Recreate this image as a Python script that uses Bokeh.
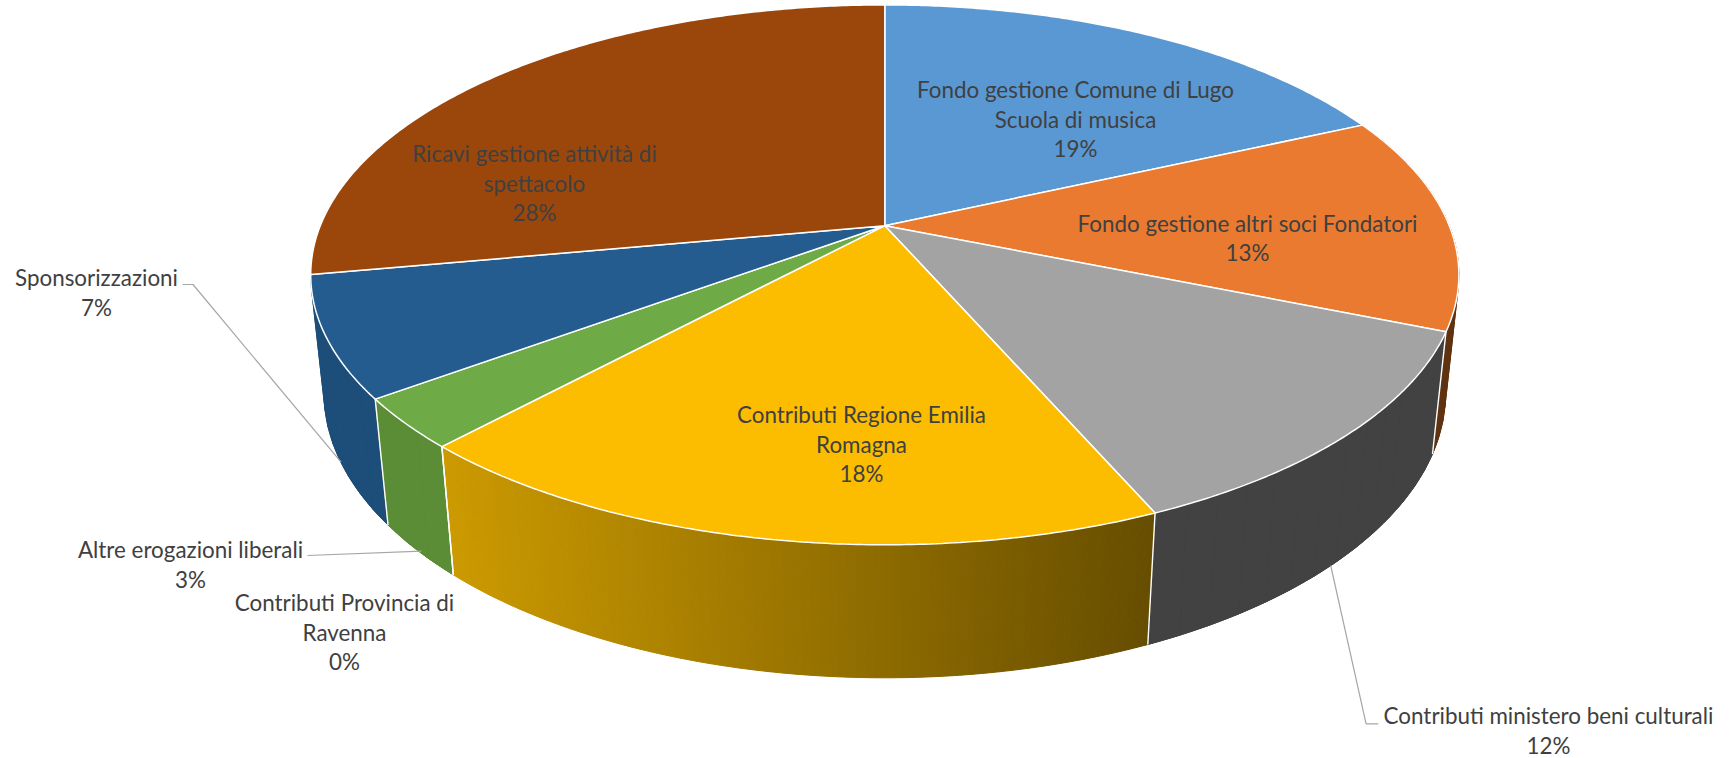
import numpy as np
from bokeh.embed import file_html
from bokeh.models import ColumnDataSource, Range1d
from bokeh.plotting import figure
from bokeh.resources import INLINE
from bokeh.core.properties import value

# ---- data -----------------------------------------------------------------
categories = [
    "Fondo gestione Comune di Lugo Scuola di musica",
    "Fondo gestione altri soci Fondatori",
    "Contributi ministero beni culturali",
    "Contributi Regione Emilia Romagna",
    "Contributi Provincia di Ravenna",
    "Altre erogazioni liberali",
    "Sponsorizzazioni",
    "Ricavi gestione attività di spettacolo",
]
shares = [18.20, 12.97, 12.30, 18.43, 0.0, 3.00, 7.20, 27.90]
percent_labels = ["19%", "13%", "12%", "18%", "0%", "3%", "7%", "28%"]
label_lines = [
    ["Fondo gestione Comune di Lugo", "Scuola di musica"],
    ["Fondo gestione altri soci Fondatori"],
    ["Contributi ministero beni culturali"],
    ["Contributi Regione Emilia", "Romagna"],
    ["Contributi Provincia di", "Ravenna"],
    ["Altre erogazioni liberali"],
    ["Sponsorizzazioni"],
    ["Ricavi gestione attività di", "spettacolo"],
]

# ---- styles and layout ----------------------------------------------------
top_colors = ["#5a98d3", "#ea7a30", "#a3a3a3", "#fcbd00", "#4472c4", "#6eaa46", "#245c90", "#9b470c"]
wall_colors = ["#3a6d9c", "#5f3210", "#424242", None, "#2b4a80", "#5b8c36", "#1d4e79", "#5e2b08"]
hidden_walls = {0, 7}
grad_left, grad_right = (204, 154, 0), (102, 77, 0)
text_color = "#404040"
leader_color = "#a6a6a6"
FONT = "Lato"
FONT_PX = 22.4

label_cx = [1075, 1247, 1548, 861, 344, 190, 96, 534]
label_first_y = [89, 222.5, 715, 414, 602, 549, 277, 153]
line_gap = 29.6

leaders = [
    ([182, 192.5, 340.6], [284, 284, 461.7]),
    ([307, 421], [555, 550.7]),
    ([1330.2, 1365.6, 1377.7], [565, 723.3, 723.3]),
]

# perspective model of the disc, in picture pixels
CX, CY = 884.3, 225.2
A, B, C = 261.0, 564.5, 119.2
P, Q = 0.182, 0.023


def project(frac, depth=0.0):
    th = 2 * np.pi * np.asarray(frac, dtype=float)
    u, v = np.sin(th), np.cos(th)
    w = 1 + P * v + Q * depth
    return CX + B * u / w, CY + (-A * v + C * depth) / w


W, H = 1731, 758
p = figure(width=W, height=H, output_backend="svg", toolbar_location=None,
           x_range=Range1d(0, W), y_range=Range1d(H, 0),
           min_border=0, outline_line_color=None, background_fill_color="white")
p.axis.visible = False
p.grid.visible = False

edges = np.concatenate([[0.0], np.cumsum(shares)]) / sum(shares)


def strip(f0, f1):
    x0, y0 = project(f0)
    x1, y1 = project(f1)
    x2, y2 = project(f1, 1)
    x3, y3 = project(f0, 1)
    return [x0, x1, x2, x3], [y0, y1, y2, y3]


# walls, painted from back to front; the gradient wall is cut into fine strips,
# solid walls get one body polygon plus coarse strips that fill the silhouette
walls = []
for i, (a, b) in enumerate(zip(edges[:-1], edges[1:])):
    if b <= a or i in hidden_walls:
        continue
    f = np.linspace(a, b, max(3, int((b - a) * 720)))
    f = f[np.cos(2 * np.pi * f) < 0.35]
    if len(f) < 2:
        continue
    vm = float(np.cos(2 * np.pi * f.mean()))
    if wall_colors[i] is None:
        g = np.linspace(a, b, int((b - a) * 1400) + 1)
        xl, xr = project(b)[0], project(a)[0]
        for f0, f1 in zip(g[:-1], g[1:]):
            xs, ys = strip(f0, f1)
            t = ((xs[0] + xs[1]) / 2 - xl) / (xr - xl)
            rgb = [round(l + (r - l) * t) for l, r in zip(grad_left, grad_right)]
            walls.append((vm, xs, ys, "#%02x%02x%02x" % tuple(rgb)))
    else:
        xt, yt = project(f)
        xb, yb = project(f[::-1], 1)
        walls.append((vm, list(xt) + list(xb), list(yt) + list(yb), wall_colors[i]))
        g = np.linspace(f[0], f[-1], max(2, int((f[-1] - f[0]) * 120)) + 1)
        for f0, f1 in zip(g[:-1], g[1:]):
            xs, ys = strip(f0, f1)
            walls.append((vm, xs, ys, wall_colors[i]))
walls.sort(key=lambda s: -s[0])
p.patches([s[1] for s in walls], [s[2] for s in walls],
          fill_color=[s[3] for s in walls], line_color=[s[3] for s in walls], line_width=1.0)

# white edges between front walls
for e in edges[2:7]:
    xt, yt = project(e)
    xb, yb = project(e, 1)
    p.line([float(xt), float(xb)], [float(yt), float(yb)], line_color="white", line_width=1.4)

# leader lines
for xs, ys in leaders:
    p.line(xs, ys, line_color=leader_color, line_width=1.2)

# top of the disc
xs_top, ys_top, cols_top = [], [], []
for i, (a, b) in enumerate(zip(edges[:-1], edges[1:])):
    if b <= a:
        continue
    f = np.linspace(a, b, max(3, int((b - a) * 720)))
    x, y = project(f)
    xs_top.append([CX] + list(x))
    ys_top.append([CY] + list(y))
    cols_top.append(top_colors[i])
p.patches(xs_top, ys_top, fill_color=cols_top, line_color="white", line_width=1.5)

# labels
tx, ty, tt = [], [], []
for lines, pct, cx, y in zip(label_lines, percent_labels, label_cx, label_first_y):
    for k, s in enumerate(lines + [pct]):
        tx.append(cx)
        ty.append(y + k * line_gap)
        tt.append(s)
p.text(x="x", y="y", text="t", source=ColumnDataSource(dict(x=tx, y=ty, t=tt)),
       text_font=value(FONT), text_font_size=f"{FONT_PX}px", text_color=text_color,
       text_align="center", text_baseline="middle")

open("out.html", "w").write(file_html(p, INLINE))
